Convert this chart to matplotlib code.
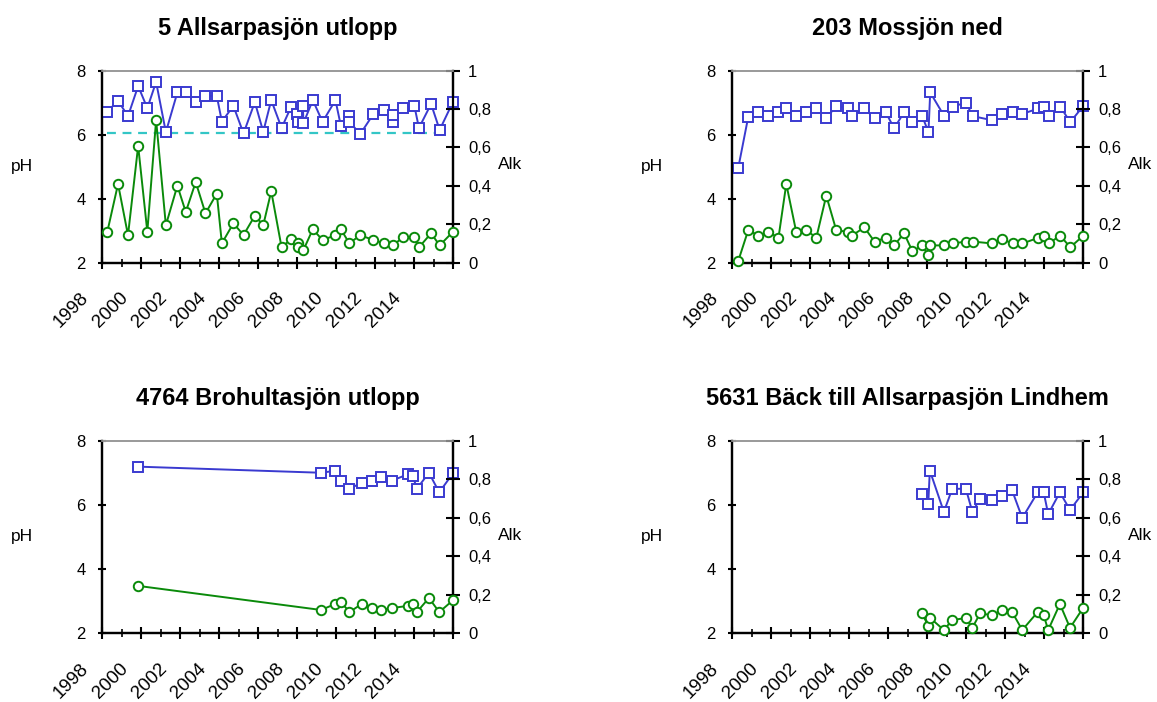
import matplotlib
matplotlib.use("Agg")
import matplotlib.pyplot as plt
import matplotlib.transforms as mtransforms
from matplotlib.ticker import FuncFormatter, MultipleLocator

plt.rcParams['font.family'] = ['Liberation Sans', 'DejaVu Sans']

# ---- Data (decimal year, pH on left axis, alkalinity on right axis) ----
titles = ["5 Allsarpasjön utlopp", "203 Mossjön ned",
          "4764 Brohultasjön utlopp", "5631 Bäck till Allsarpasjön Lindhem"]

p1_ph_year = [1998.27, 1998.82, 1999.33, 1999.85, 2000.32, 2000.77, 2001.27, 2001.86,
              2002.29, 2002.8, 2003.3, 2003.88, 2004.14, 2004.73, 2005.25, 2005.83,
              2006.26, 2006.67, 2007.2, 2007.68, 2007.98, 2008.05, 2008.29, 2008.32,
              2008.8, 2009.3, 2009.96, 2010.24, 2010.67, 2010.68, 2011.23, 2011.91,
              2012.43, 2012.9, 2012.91, 2013.42, 2014.0, 2014.24, 2014.86, 2015.3, 2015.98]
p1_ph = [6.72, 7.06, 6.58, 7.52, 6.83, 7.65, 6.08, 7.32,
         7.32, 7.02, 7.21, 7.21, 6.41, 6.9, 6.04, 7.02,
         6.09, 7.08, 6.21, 6.86, 6.65, 6.40, 6.9, 6.36,
         7.08, 6.4, 7.08, 6.27, 6.58, 6.40, 6.02, 6.65,
         6.77, 6.40, 6.62, 6.83, 6.91, 6.21, 6.96, 6.15, 7.02]
p1_alk_year = [1998.27, 1998.82, 1999.33, 1999.85, 2000.32, 2000.77, 2001.27, 2001.86,
               2002.29, 2002.8, 2003.3, 2003.88, 2004.14, 2004.73, 2005.25, 2005.83,
               2006.26, 2006.67, 2007.2, 2007.68, 2008.02, 2008.05, 2008.32, 2008.8,
               2009.3, 2009.96, 2010.24, 2010.67, 2011.23, 2011.91, 2012.43, 2012.9,
               2013.42, 2014.0, 2014.24, 2014.86, 2015.3, 2015.98]
p1_alk = [0.161, 0.41, 0.143, 0.608, 0.161, 0.743, 0.195, 0.401,
          0.264, 0.42, 0.257, 0.36, 0.101, 0.205, 0.144, 0.245,
          0.195, 0.372, 0.08, 0.122, 0.104, 0.08, 0.066, 0.174,
          0.118, 0.143, 0.174, 0.101, 0.143, 0.118, 0.101, 0.09,
          0.132, 0.135, 0.08, 0.153, 0.09, 0.161]
p1_limit = 6.05  # dashed pH reference line
p1_limit_end = 2015.7

p2_year = [1998.31, 1998.82, 1999.34, 1999.85, 2000.37, 2000.77, 2001.28, 2001.79,
           2002.31, 2002.82, 2003.33, 2003.92, 2004.14, 2004.77, 2005.3, 2005.87,
           2006.3, 2006.81, 2007.24, 2007.74, 2008.06, 2008.15, 2008.87, 2009.3,
           2009.98, 2010.33, 2011.34, 2011.85, 2012.37, 2012.88, 2013.7, 2014.0,
           2014.22, 2014.82, 2015.33, 2016.0]
p2_ph = [4.97, 6.56, 6.7, 6.58, 6.7, 6.82, 6.58, 6.7,
         6.82, 6.51, 6.9, 6.82, 6.58, 6.82, 6.51, 6.7,
         6.2, 6.7, 6.39, 6.58, 6.08, 7.32, 6.58, 6.88,
         7.0, 6.58, 6.45, 6.65, 6.7, 6.65, 6.82, 6.88,
         6.58, 6.88, 6.39, 6.9]
p2_alk = [0.01, 0.17, 0.141, 0.16, 0.13, 0.41, 0.16, 0.17,
          0.13, 0.349, 0.17, 0.16, 0.141, 0.184, 0.109, 0.13,
          0.09, 0.153, 0.059, 0.09, 0.038, 0.09, 0.09, 0.1,
          0.11, 0.11, 0.1, 0.122, 0.1, 0.1, 0.13, 0.141,
          0.1, 0.141, 0.08, 0.141]

p3_year = [1999.85, 2009.22, 2009.95, 2010.24, 2010.68, 2011.3, 2011.81, 2012.32,
           2012.84, 2013.66, 2013.93, 2014.13, 2014.75, 2015.28, 2016.0]
p3_ph = [7.19, 7.0, 7.06, 6.75, 6.5, 6.69, 6.75, 6.88, 6.75, 6.95, 6.9, 6.5, 7.0, 6.39, 7.0]
p3_alk = [0.246, 0.121, 0.152, 0.163, 0.11, 0.152, 0.131, 0.121,
          0.131, 0.142, 0.152, 0.11, 0.183, 0.11, 0.173]

p4_year = [2007.72, 2008.05, 2008.13, 2008.85, 2009.28, 2009.98, 2010.31, 2010.71,
           2011.32, 2011.84, 2012.35, 2012.87, 2013.66, 2013.97, 2014.2, 2014.8,
           2015.32, 2016.0]
p4_ph = [6.33, 6.03, 7.07, 5.78, 6.5, 6.5, 5.78, 6.19, 6.14, 6.27, 6.45, 5.59,
         6.39, 6.39, 5.71, 6.39, 5.84, 6.39]
p4_alk = [0.104, 0.04, 0.081, 0.017, 0.069, 0.079, 0.028, 0.104, 0.093, 0.121,
          0.11, 0.017, 0.11, 0.093, 0.017, 0.152, 0.028, 0.133]

year_ticks = list(range(1998, 2017, 2))
year_labels = [str(y) for y in year_ticks[:-1]] + [""]
ph_ticks = [2, 4, 6, 8]
alk_ticks = [0, 0.2, 0.4, 0.6, 0.8, 1.0]

panels = [
    (p1_ph_year, p1_ph, p1_alk_year, p1_alk),
    (p2_year, p2_ph, p2_year, p2_alk),
    (p3_year, p3_ph, p3_year, p3_alk),
    (p4_year, p4_ph, p4_year, p4_alk),
]

BLUE = '#3a3ad0'
GREEN = '#0a8a0a'

fig = plt.figure(figsize=(11.57, 7.02), dpi=100)
positions = [
    [0.0882, 0.6258, 0.3036, 0.2735],
    [0.6329, 0.6258, 0.3034, 0.2735],
    [0.0882, 0.0979, 0.3036, 0.2744],
    [0.6329, 0.0979, 0.3034, 0.2744],
]

comma = FuncFormatter(lambda v, p: ("%g" % v).replace(".", ","))
label_shift = mtransforms.ScaledTranslation(-0.1, 0, fig.dpi_scale_trans)

for i, (pos, (xph, ph, xalk, alk)) in enumerate(zip(positions, panels)):
    ax = fig.add_axes(pos)
    ax2 = ax.twinx()

    if i == 0:
        ax.hlines(p1_limit, xph[0], p1_limit_end, colors='#33c6c6', linestyles=(0, (4, 3)),
                  linewidth=1.6, zorder=1)
    ax.plot(xph, ph, color=BLUE, lw=1.4, marker='s', ms=6.8, mfc='white',
            mec=BLUE, mew=1.4, zorder=3, clip_on=False)
    ax2.plot(xalk, alk, color=GREEN, lw=1.4, marker='o', ms=6.8, mfc='white',
             mec=GREEN, mew=1.4, zorder=3, clip_on=False)

    ax.set_xlim(1998, 2016)
    ax.set_ylim(2, 8)
    ax2.set_ylim(0, 1)
    ax.set_yticks(ph_ticks)
    ax2.set_yticks(alk_ticks)
    ax2.yaxis.set_major_formatter(comma)
    ax.set_xticks(year_ticks)
    ax.set_xticklabels(year_labels)
    ax.xaxis.set_minor_locator(MultipleLocator(1))

    for a in (ax, ax2):
        a.spines['top'].set_color('#999999')
        a.spines['top'].set_linewidth(1.2)
        for s in ('left', 'right', 'bottom'):
            a.spines[s].set_linewidth(1.6)
            a.spines[s].set_color('black')

    ax.tick_params(axis='y', direction='inout', length=6, width=1.5, pad=9, labelsize=12)
    ax2.tick_params(axis='y', direction='inout', length=9.5, width=1.5, pad=6, labelsize=12)
    ax.tick_params(axis='x', which='major', direction='inout', length=8.5, width=1.5,
                   pad=15, labelsize=13.5, labelrotation=45)
    ax.tick_params(axis='x', which='minor', direction='inout', length=5.3, width=1.2)
    for lab in ax.get_xticklabels():
        lab.set_ha('right')
        lab.set_va('top')
        lab.set_transform(lab.get_transform() + label_shift)

    ax.set_ylabel('pH', rotation=0, fontsize=12.5, ha='center', va='center')
    ax.yaxis.set_label_coords(-0.229, 0.5)
    ax2.set_ylabel('Alk', rotation=0, fontsize=12.5, ha='center', va='center')
    ax2.yaxis.set_label_coords(1.162, 0.51)

    ax.set_title(titles[i], fontsize=17, fontweight='bold', pad=26)
    ax2.set_zorder(ax.get_zorder() + 1)

fig.savefig('out.png', dpi=100)
